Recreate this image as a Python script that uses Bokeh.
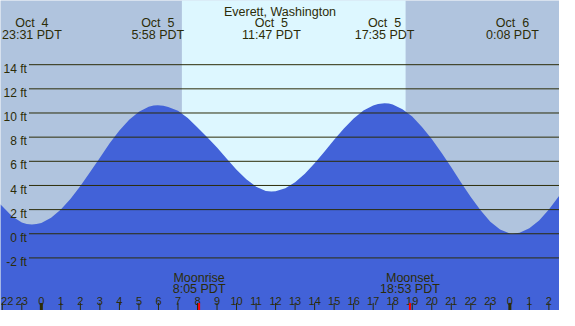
from bokeh.plotting import figure
from bokeh.models import Range1d, ColumnDataSource
from bokeh.core.properties import value
from bokeh.embed import file_html
from bokeh.resources import INLINE

# ---------------- data ----------------
title = "Everett, Washington"

# tide height (ft) vs hours from Oct 5 00:00 PDT
tide_hours = [-2.1, -2.0, -1.5, -1.0, -0.75, -0.483, -0.25, 0, 0.5, 1, 1.5, 2, 2.5,
              3, 3.5, 4, 4.5, 5, 5.5, 5.75, 5.967, 6.25, 6.5, 7, 7.5, 8, 8.5, 9, 9.5,
              10, 10.5, 11, 11.5, 11.783, 12, 12.5, 13, 13.5, 14, 14.5, 15, 15.5,
              16, 16.5, 17, 17.25, 17.583, 17.8, 18, 18.5, 19, 19.5, 20, 20.5, 21,
              21.5, 22, 22.5, 23, 23.5, 24, 24.133, 24.5, 25, 25.5, 26, 26.5, 26.6]
tide_ft = [2.45, 2.27, 1.46, 0.93, 0.81, 0.76, 0.80, 0.90, 1.32, 2.00, 2.89, 3.95, 5.12,
           6.30, 7.49, 8.55, 9.44, 10.10, 10.52, 10.62, 10.65, 10.61, 10.50, 10.18,
           9.58, 8.80, 8.00, 7.15, 6.22, 5.30, 4.52, 3.90, 3.54, 3.49, 3.52, 3.76,
           4.26, 4.96, 5.83, 6.79, 7.78, 8.72, 9.54, 10.20, 10.63, 10.75, 10.81,
           10.78, 10.70, 10.30, 9.70, 8.85, 7.85, 6.70, 5.50, 4.25, 3.04, 1.95,
           1.00, 0.35, 0.02, 0.0, 0.08, 0.45, 1.10, 2.00, 3.08, 3.25]

# high / low events
event_hours = [-0.483, 5.967, 11.783, 17.583, 24.133]
event_dates = ["Oct\u00a0\u00a04", "Oct\u00a0\u00a05", "Oct\u00a0\u00a05",
               "Oct\u00a0\u00a05", "Oct\u00a0\u00a06"]
event_times = ["23:31 PDT", "5:58 PDT", "11:47 PDT", "17:35 PDT", "0:08 PDT"]

# daylight
sunrise_h = 7.2
sunset_h = 18.66

# moon
moon_hours = [8.083, 18.883]
moon_names = ["Moonrise", "Moonset"]
moon_times = ["8:05 PDT", "18:53 PDT"]

# y grid
ft_levels = [-2, 0, 2, 4, 6, 8, 10, 12, 14]
ft_labels = ["-2 ft", "0 ft", "2 ft", "4 ft", "6 ft", "8 ft", "10 ft", "12 ft", "14 ft"]

# hour ticks
hour_ticks = list(range(-2, 27))
hour_labels = ["22", "23"] + [str(h) for h in range(24)] + ["0", "1", "2"]

# ---------------- layout helpers ----------------
X0, X1 = -2.0916, 26.544
Y0, Y1 = -6.354, 19.315


def ypx(px):
    # reference pixel row -> feet
    return (245.3 - px) / 12.7


def xpx(px):
    return (px - 42.0) / 20.08


BG = "#B0C4DE"
DAY = "#DDF7FF"
TIDE = "#4262D8"
INK = "#2c2c08"
FONT = value("Liberation Sans")

p = figure(width=559, height=310, x_range=Range1d(X0, X1), y_range=Range1d(Y0, Y1),
           output_backend="svg", toolbar_location=None, min_border=0,
           x_axis_location=None, y_axis_location=None)
p.grid.visible = False
p.outline_line_color = None
p.background_fill_color = BG
p.border_fill_color = BG

# daylight band
p.quad(left=[sunrise_h], right=[sunset_h], bottom=[Y0 - 1], top=[Y1 + 1],
       fill_color=DAY, line_color=None)

# tide
p.varea(x=tide_hours, y1=[Y0 - 1] * len(tide_hours), y2=tide_ft, fill_color=TIDE)

# grid lines
p.segment(x0=[xpx(29.3)] * len(ft_levels), x1=[X1 + 1] * len(ft_levels),
          y0=ft_levels, y1=ft_levels, line_color=INK, line_width=1)

# y labels
p.text(x=[xpx(27.2)] * len(ft_levels), y=[f - 0.34 for f in ft_levels], text=ft_labels,
       text_align="right", text_baseline="alphabetic", text_font=FONT,
       text_font_size="12px", text_color=INK)

# title
p.text(x=[(X0 + X1) / 2], y=[ypx(11.8)], text=[title], text_align="center",
       text_baseline="alphabetic", text_font=FONT, text_font_size="12.5px",
       text_color=INK)

# event labels
p.text(x=event_hours, y=[ypx(23.8)] * len(event_hours), text=event_dates,
       text_align="center", text_baseline="alphabetic", text_font=FONT,
       text_font_size="12.5px", text_color=INK)
p.text(x=event_hours, y=[ypx(35.8)] * len(event_hours), text=event_times,
       text_align="center", text_baseline="alphabetic", text_font=FONT,
       text_font_size="12.5px", text_color=INK)

# moon labels
p.text(x=moon_hours, y=[ypx(291.7)] * 2, text=moon_names,
       text_align="center", text_baseline="alphabetic", text_font=FONT,
       text_font_size="12.5px", text_color=INK)
p.text(x=moon_hours, y=[ypx(303.3)] * 2, text=moon_times,
       text_align="center", text_baseline="alphabetic", text_font=FONT,
       text_font_size="12.5px", text_color=INK)

# hour labels (the first one is kept inside the frame, left-aligned at the edge)
inner = [i for i, h in enumerate(hour_ticks) if h - 0.35 > X0]
edge = [i for i, h in enumerate(hour_ticks) if h - 0.35 <= X0]
p.text(x=[hour_ticks[i] for i in inner], y=[ypx(315.8)] * len(inner),
       text=[hour_labels[i] for i in inner],
       text_align="center", text_baseline="alphabetic", text_font=FONT,
       text_font_size="11px", text_color=INK)
p.text(x=[X0 + 0.03] * len(edge), y=[ypx(315.8)] * len(edge),
       text=[hour_labels[i] for i in edge],
       text_align="left", text_baseline="alphabetic", text_font=FONT,
       text_font_size="11px", text_color=INK)

# hour ticks
widths = [3 if lab == "0" else 1 for lab in hour_labels]
tick_src = ColumnDataSource(dict(x=hour_ticks, w=widths))
p.segment(x0="x", x1="x", y0=Y0 - 1, y1=ypx(318), line_width="w", line_color=INK,
          source=tick_src)

# moon ticks
p.segment(x0=moon_hours, x1=moon_hours, y0=[Y0 - 1] * 2, y1=[ypx(318)] * 2,
          line_width=2, line_color="#FF0000")

open("out.html", "w").write(file_html(p, INLINE))
